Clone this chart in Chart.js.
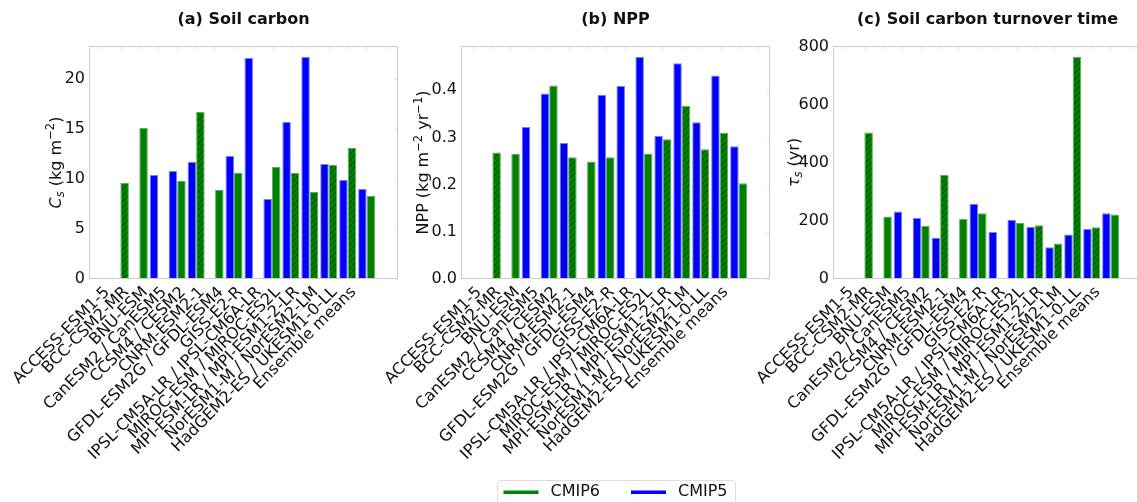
<!DOCTYPE html>
<html>
<head>
<meta charset="utf-8">
<script src="https://cdn.jsdelivr.net/npm/chart.js@4.4.0/dist/chart.umd.min.js"></script>
<style>
  html, body { margin: 0; padding: 0; background: #fff; overflow: hidden; }
  #fig { position: relative; width: 1137px; height: 502px; overflow: hidden; background: #fff; }
  #fig canvas { position: absolute; top: 0; }
</style>
</head>
<body>
<div id="fig">
  <canvas id="soilChart" width="420" height="510" style="left:0px"></canvas>
  <canvas id="nppChart" width="491" height="510" style="left:370px"></canvas>
  <canvas id="tauChart" width="420" height="510" style="left:740px"></canvas>
</div>
<script>
// Model pairs (CMIP5 / CMIP6), one slot per x position
const models = [
  "ACCESS-ESM1-5", "BCC-CSM2-MR", "BNU-ESM", "CanESM2 / CanESM5", "CCSM4 / CESM2",
  "CNRM-ESM2-1", "GFDL-ESM2G / GFDL-ESM4", "GISS-E2-R", "IPSL-CM5A-LR / IPSL-CM6A-LR",
  "MIROC-ESM / MIROC-ES2L", "MPI-ESM-LR / MPI-ESM1-2-LR", "NorESM1-M / NorESM2-LM",
  "HadGEM2-ES / UKESM1-0-LL", "Ensemble means"
];

// Soil carbon (kg m-2)
const soilC6 = [9.6, 15.1, null, 9.8, 16.7, 8.9, 10.6, null, 11.2, 10.6, 8.7, 11.4, 13.1, 8.3];
const soilC5 = [null, null, 10.4, 10.8, 11.7, null, 12.3, 22.1, 8.0, 15.7, 22.2, 11.5, 9.9, 9.0];

// NPP (kg m-2 yr-1)
const npp6 = [0.268, 0.265, null, 0.410, 0.258, 0.249, 0.258, null, 0.266, 0.296, 0.367, 0.275, 0.309, 0.203];
const npp5 = [null, null, 0.322, 0.393, 0.288, null, 0.390, 0.409, 0.470, 0.303, 0.457, 0.332, 0.431, 0.281];

// Soil carbon turnover time (yr)
const tau6 = [504, 215, null, 183, 359, 207, 226, null, 193, 185, 122, 764, 178, 222];
const tau5 = [null, null, 232, 210, 142, null, 259, 162, 204, 179, 109, 153, 172, 226];

const legendItems = ["CMIP6", "CMIP5"];

// which bars get the /// hatch
const hatched6 = [0, 4, 9, 10, 11, 12];
const hatched5 = [4, 11];

const GREEN = "#008000", BLUE = "#0000ff";
const FONT = '"DejaVu Sans", "Liberation Sans", sans-serif';
const TEXT = "#111111";
const FRAME = "#cccccc";
const PLOT_TOP = 46, PLOT_BOTTOM = 279, PLOT_W = 309;

Chart.defaults.font.family = FONT;

function hatch(color) {
    const s = 6;
    const c = document.createElement("canvas");
    c.width = c.height = s;
    const g = c.getContext("2d");
    g.fillStyle = color;
    g.fillRect(0, 0, s, s);
    g.strokeStyle = "rgba(0,0,0,0.45)";
    g.lineWidth = 1;
    g.beginPath();
    g.moveTo(0, s); g.lineTo(s, 0);
    g.moveTo(-1, 1); g.lineTo(1, -1);
    g.moveTo(s - 1, s + 1); g.lineTo(s + 1, s - 1);
    g.stroke();
    return g.createPattern(c, "repeat");
}
const greenHatch = hatch(GREEN), blueHatch = hatch(BLUE);

function fills(values, hatchedIdx, color, pattern) {
    return values.map((v, i) => hatchedIdx.includes(i) ? pattern : color);
}

// rotated y label with italic / sub / superscript pieces
function drawYLabel(ctx, parts, cx, cy) {
    const fontOf = p => (p.it ? "italic " : "") + (p.sub || p.sup ? 11.5 : 16) + "px " + FONT;
    let total = 0;
    parts.forEach(p => { ctx.font = fontOf(p); p.w = ctx.measureText(p.t).width; total += p.w; });
    ctx.save();
    ctx.translate(cx, cy);
    ctx.rotate(-Math.PI / 2);
    ctx.fillStyle = TEXT;
    ctx.textBaseline = "alphabetic";
    ctx.textAlign = "left";
    let x = -total / 2;
    parts.forEach(p => {
        ctx.font = fontOf(p);
        const dy = p.sub ? 3.5 : p.sup ? -6.5 : 0;
        ctx.fillText(p.t, x, 5.5 + dy);
        x += p.w;
    });
    ctx.restore();
}

// shared figure legend: line handles, centred under the middle panel
function drawLegend(ctx, cx, cy) {
    const colors = [GREEN, BLUE];
    const handle = 35, textGap = 12, itemGap = 31;
    ctx.save();
    ctx.font = "16px " + FONT;
    const widths = legendItems.map(t => ctx.measureText(t).width);
    const total = widths.reduce((s, w) => s + handle + textGap + w, 0) + itemGap * (legendItems.length - 1);
    let x = cx - total / 2;

    ctx.strokeStyle = "#dddddd";
    ctx.lineWidth = 1;
    ctx.beginPath();
    ctx.roundRect(Math.round(x - 6) + 0.5, Math.round(cy - 12) + 0.5, Math.round(total + 14), 40, 3);
    ctx.stroke();

    ctx.textBaseline = "middle";
    ctx.textAlign = "left";
    legendItems.forEach((t, i) => {
        ctx.fillStyle = colors[i];
        ctx.fillRect(x, cy - 1.5, handle, 3.5);
        ctx.fillStyle = TEXT;
        ctx.fillText(t, x + handle + textGap, cy);
        x += handle + textGap + widths[i] + itemGap;
    });
    ctx.restore();
}

function decor(title, yParts, yLabelGap, withLegend) {
    return {
        id: "decor",
        afterDatasetsDraw(chart) {
            const { ctx, chartArea: a, scales } = chart;
            ctx.save();
            ctx.strokeStyle = FRAME;
            ctx.lineWidth = 1;
            ctx.strokeRect(a.left + 0.5, a.top + 0.5, a.right - a.left - 1, a.bottom - a.top - 1);
            // short inward ticks on the top and right spines
            ctx.strokeStyle = "#dddddd";
            ctx.beginPath();
            scales.x.ticks.forEach(t => {
                const px = Math.round(scales.x.getPixelForValue(t.value)) + 0.5;
                ctx.moveTo(px, a.top + 1); ctx.lineTo(px, a.top + 3);
            });
            scales.y.ticks.forEach(t => {
                const py = Math.round(scales.y.getPixelForValue(t.value)) + 0.5;
                ctx.moveTo(a.right - 1, py); ctx.lineTo(a.right - 3, py);
            });
            ctx.stroke();
            ctx.restore();
        },
        afterDraw(chart) {
            const { ctx, chartArea: a } = chart;
            ctx.save();
            ctx.font = "bold 16px " + FONT;
            ctx.fillStyle = TEXT;
            ctx.textAlign = "center";
            ctx.textBaseline = "middle";
            ctx.fillText(title, (a.left + a.right) / 2, 20);
            ctx.restore();
            drawYLabel(ctx, yParts, a.left - yLabelGap, (a.top + a.bottom) / 2);
            if (withLegend) drawLegend(ctx, (a.left + a.right) / 2, 492);
        }
    };
}

function panel(id, cfg) {
    const canvas = document.getElementById(id);
    const tickFont = { family: FONT, size: 16 };
    return new Chart(canvas, {
        type: "bar",
        data: {
            datasets: [
                {
                    label: "CMIP5",
                    data: cfg.v5.map((y, x) => ({ x, y })),
                    backgroundColor: fills(cfg.v5, hatched5, BLUE, blueHatch),
                    borderColor: "#7b7bff",
                    borderWidth: 1,
                    categoryPercentage: 0.9,
                    barPercentage: 1
                },
                {
                    label: "CMIP6",
                    data: cfg.v6.map((y, x) => ({ x, y })),
                    backgroundColor: fills(cfg.v6, hatched6, GREEN, greenHatch),
                    borderColor: "#5fae5f",
                    borderWidth: 1,
                    categoryPercentage: 0.9,
                    barPercentage: 1
                }
            ]
        },
        options: {
            responsive: false,
            animation: false,
            layout: { padding: { left: 0, right: canvas.width - cfg.axisW - PLOT_W, top: PLOT_TOP, bottom: 0 } },
            scales: {
                x: {
                    type: "linear",
                    min: -1.145,
                    max: 14.145,
                    grid: { display: false, drawTicks: false },
                    border: { display: false },
                    afterFit: s => { s.height = s.chart.height - PLOT_BOTTOM; },
                    ticks: {
                        stepSize: 1,
                        autoSkip: false,
                        includeBounds: false,
                        minRotation: 45,
                        maxRotation: 45,
                        labelOffset: -13,
                        padding: 4,
                        font: tickFont,
                        color: TEXT,
                        callback: v => models[v] ?? ""
                    }
                },
                y: {
                    beginAtZero: true,
                    max: cfg.yMax,
                    grid: { display: false, drawTicks: false },
                    border: { display: false },
                    afterFit: s => { s.width = cfg.axisW; },
                    ticks: {
                        stepSize: cfg.step,
                        includeBounds: false,
                        padding: 4,
                        font: tickFont,
                        color: TEXT,
                        callback: cfg.fmt
                    }
                }
            },
            plugins: {
                tooltip: { enabled: false },
                legend: { display: false }
            }
        },
        plugins: [decor(cfg.title, cfg.yLabel, cfg.yLabelGap, !!cfg.legend)]
    });
}

panel("soilChart", {
    title: "(a) Soil carbon",
    yLabel: [{ t: "C", it: true }, { t: "s", it: true, sub: true }, { t: " (kg m" }, { t: "\u22122", sup: true }, { t: ")" }],
    yLabelGap: 34,
    v6: soilC6, v5: soilC5,
    yMax: 23.31, step: 5,
    fmt: v => String(v),
    axisW: 89
});

panel("nppChart", {
    title: "(b) NPP",
    yLabel: [{ t: "NPP (kg m" }, { t: "\u22122", sup: true }, { t: " yr" }, { t: "\u22121", sup: true }, { t: ")" }],
    yLabelGap: 38.5,
    v6: npp6, v5: npp5,
    yMax: 0.4935, step: 0.1,
    fmt: v => v.toFixed(1),
    axisW: 91,
    legend: true
});

panel("tauChart", {
    title: "(c) Soil carbon turnover time",
    yLabel: [{ t: "\u03c4", it: true }, { t: "s", it: true, sub: true }, { t: " (yr)" }],
    yLabelGap: 40,
    v6: tau6, v5: tau5,
    yMax: 802, step: 200,
    fmt: v => String(v),
    axisW: 93
});
</script>
</body>
</html>
